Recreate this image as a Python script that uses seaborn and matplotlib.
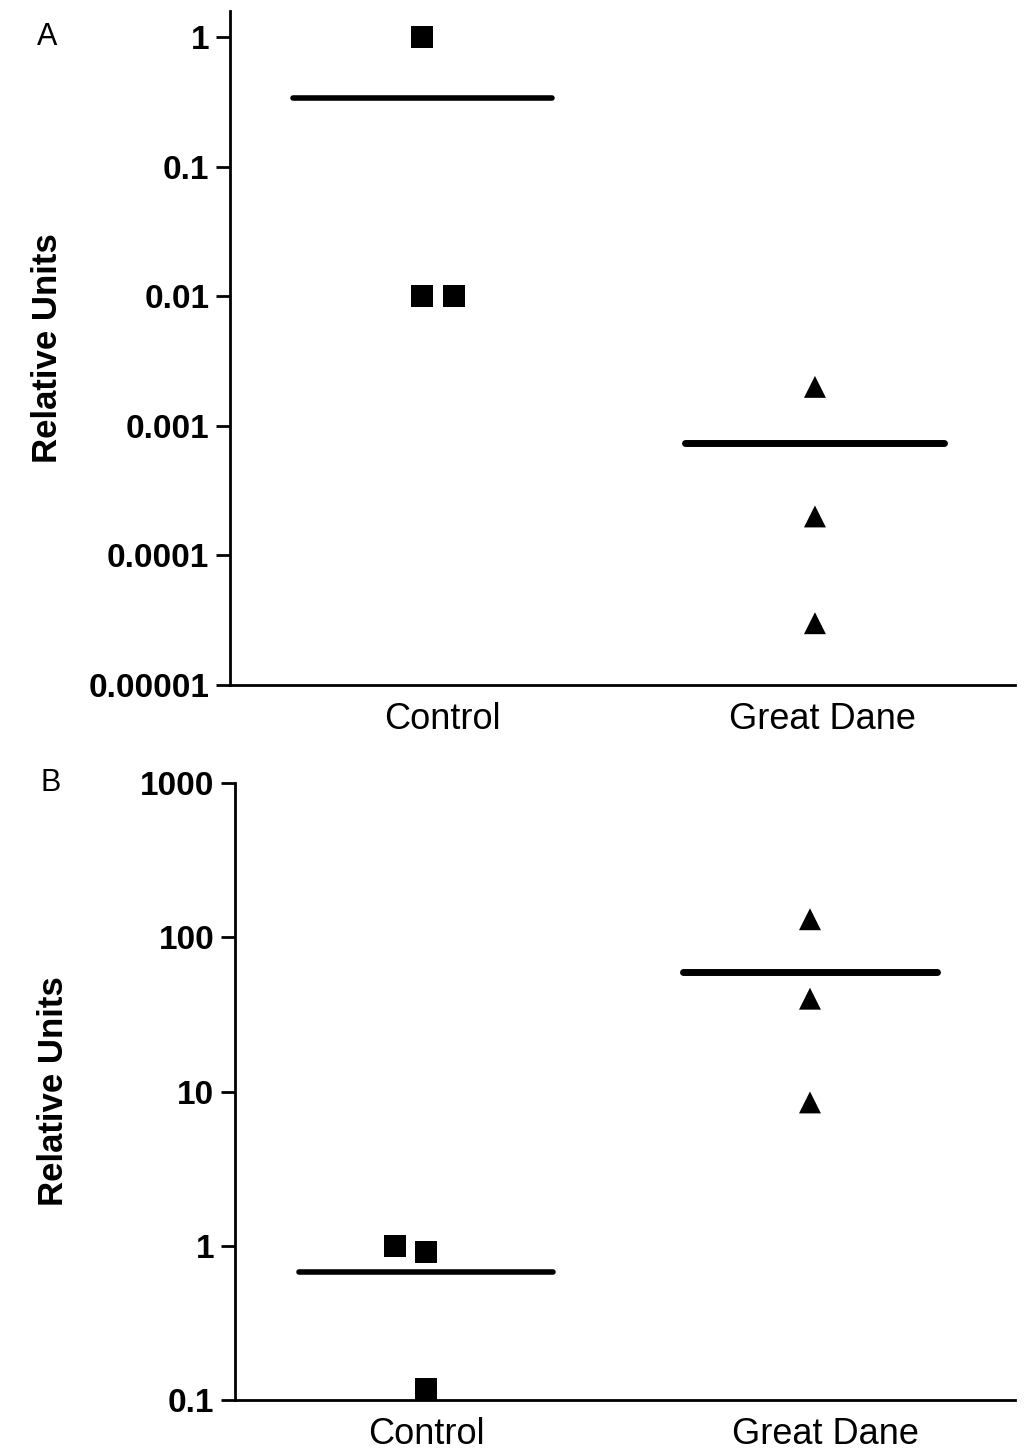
import numpy as np
import pandas as pd
import matplotlib
matplotlib.use("Agg")
import matplotlib.pyplot as plt
import seaborn as sns

sns.set_style("white")
plt.rcParams['font.family'] = ['Liberation Sans', 'DejaVu Sans']
plt.rcParams.update({"text.color": "black", "axes.labelcolor": "black",
                     "xtick.color": "black", "ytick.color": "black"})

# data
groups = ["Control", "Great Dane"]
a_control = [1.0, 0.01, 0.01]
a_dane = [0.002, 0.0002, 0.00003]
b_control = [1.0, 0.91, 0.118]
b_dane = [131, 40, 8.5]
# small horizontal shifts so overlapping points stay visible
a_control_dx = [0.0, 0.0, 0.08]
b_control_dx = [-0.08, 0.0, 0.0]

a_yticks = [1e-5, 1e-4, 1e-3, 1e-2, 1e-1, 1]
a_yticklabels = ["0.00001", "0.0001", "0.001", "0.01", "0.1", "1"]
b_yticks = [0.1, 1, 10, 100, 1000]
b_yticklabels = ["0.1", "1", "10", "100", "1000"]


def make_df(ctrl, dane, ctrl_dx):
    df = pd.DataFrame({
        "group": [groups[0]] * len(ctrl) + [groups[1]] * len(dane),
        "value": ctrl + dane,
    })
    dx = list(ctrl_dx) + [0.0] * len(dane)
    df["x"] = df["group"].map({g: i for i, g in enumerate(groups)}) + np.array(dx)
    return df


def panel(ax, df, yticks, yticklabels, ylim, xlim, lw, xtick_pos):
    sns.scatterplot(data=df, x="x", y="value", style="group",
                    markers={"Control": "s", "Great Dane": "^"},
                    s=250, color="black", edgecolor="none",
                    legend=False, ax=ax)
    means = df.groupby("group")["value"].mean()
    for i, g in enumerate(groups):
        ax.hlines(means[g], i - 0.33, i + 0.33, color="black",
                  linewidth=lw[i], capstyle="round")
    ax.set_yscale("log")
    ax.set_ylim(*ylim)
    ax.set_xlim(*xlim)
    ax.set_yticks(yticks)
    ax.set_yticklabels(yticklabels, fontweight="bold", fontsize=24)
    ax.minorticks_off()
    ax.set_xticks(xtick_pos)
    ax.set_xticklabels(groups, fontsize=26)
    ax.tick_params(axis="y", left=True, length=10, width=2, pad=5)
    ax.tick_params(axis="x", bottom=False, length=0, pad=12)
    ax.set_xlabel("")
    ax.set_ylabel("Relative Units", fontweight="bold", fontsize=25)
    sns.despine(ax=ax)
    for sp in ["left", "bottom"]:
        ax.spines[sp].set_linewidth(2)
        ax.spines[sp].set_color("black")


fig = plt.figure(figsize=(10.25, 14.55), dpi=100)
ax_a = fig.add_axes([0.2244, 0.5292, 0.766, 0.4632])
ax_b = fig.add_axes([0.2293, 0.0378, 0.761, 0.424])

panel(ax_a, make_df(a_control, a_dane, a_control_dx), a_yticks, a_yticklabels,
      (1e-5, 1.59), (-0.49, 1.51), (4, 5), [0.05, 1.02])
panel(ax_b, make_df(b_control, b_dane, b_control_dx), b_yticks, b_yticklabels,
      (0.1, 1000), (-0.497, 1.534), (4, 5), [0.0, 1.04])

ax_a.yaxis.set_label_coords(-0.212, 0.5)
ax_b.yaxis.set_label_coords(-0.211, 0.5)

fig.text(0.046, 0.9746, "A", fontsize=22, ha="center", va="center")
fig.text(0.049, 0.4619, "B", fontsize=22, ha="center", va="center")

fig.savefig("out.png", dpi=100)
